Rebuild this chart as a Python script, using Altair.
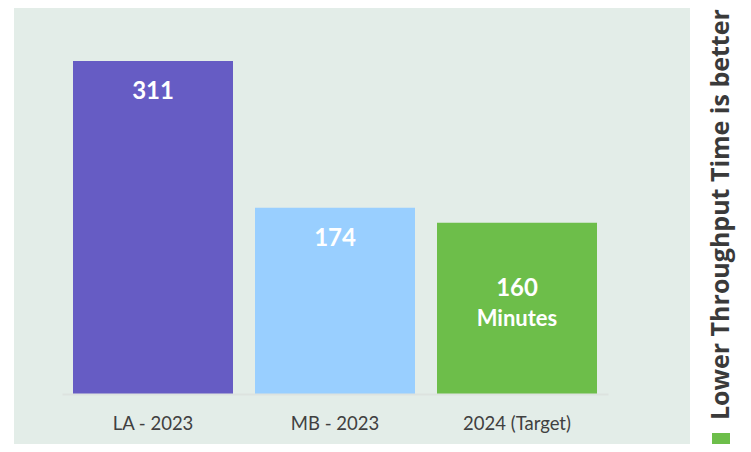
import altair as alt
import pandas as pd

categories = ["LA - 2023", "MB - 2023", "2024 (Target)"]
values = [311, 174, 160]
bar_colors = ["#665cc4", "#99cfff", "#6dbe4a"]
value_labels = ["311", "174", "160"]
unit_labels = ["", "", "Minutes"]
side_note = "Lower Throughput Time  is better"

df = pd.DataFrame({
    "category": categories,
    "value": values,
    "label": value_labels,
    "unit": unit_labels,
})

x_enc = alt.X("category:N", sort=categories,
              scale=alt.Scale(paddingInner=0.12, paddingOuter=0.06),
              axis=alt.Axis(title=None, labelAngle=0, labelFont="Lato", labelFontSize=18.5,
                            labelColor="#404040", labelPadding=20, ticks=False,
                            domainColor="#dde3df", domainWidth=2, zindex=1))
y_enc = alt.Y("value:Q", scale=alt.Scale(domain=[0, 360.5], nice=False),
              axis=None)

base = alt.Chart(df)

panel = alt.Chart(pd.DataFrame({"p": [1]})).mark_rect(color="#e3ede8").encode(
    x=alt.value(-48), x2=alt.value(628), y=alt.value(-2), y2=alt.value(460)
)

bars = base.mark_bar(size=160).encode(
    x=x_enc, y=y_enc,
    color=alt.Color("category:N", sort=categories,
                    scale=alt.Scale(domain=categories, range=bar_colors), legend=None),
)

lbl_top = base.transform_filter(alt.datum.unit == "").mark_text(
    font="Lato", fontSize=24, fontWeight="bold", color="white", dy=31, baseline="middle"
).encode(x=alt.X("category:N", sort=categories), y="value:Q", text="label:N")

lbl_green = base.transform_filter(alt.datum.unit != "").mark_text(
    font="Lato", fontSize=24, fontWeight="bold", color="white", dy=66, baseline="middle"
).encode(x=alt.X("category:N", sort=categories), y="value:Q", text="label:N")

lbl_unit = base.transform_filter(alt.datum.unit != "").mark_text(
    font="Lato", fontSize=22, fontWeight="bold", color="white", dy=96, baseline="middle"
).encode(x=alt.X("category:N", sort=categories), y="value:Q", text="unit:N")

note = alt.Chart(pd.DataFrame({"t": [side_note]})).mark_text(
    font="Open Sans", fontSize=25, fontWeight="bold", color="#3a3a3a",
    angle=270, align="left", baseline="middle"
).encode(x=alt.value(659), y=alt.value(412), text="t:N")

square = alt.Chart(pd.DataFrame({"s": [1]})).mark_rect(color="#6dbe4a").encode(
    x=alt.value(650), x2=alt.value(668), y=alt.value(425), y2=alt.value(450)
)

chart = alt.layer(panel, bars, lbl_top, lbl_green, lbl_unit, note, square).properties(
    width=546, height=386,
    autosize=alt.AutoSizeParams(type="none"),
    padding={"left": 54, "top": 0, "right": 135, "bottom": 50},
).configure_view(stroke=None).configure(background="white")

chart.save("out.html", embed_options={"renderer": "svg", "actions": False})
